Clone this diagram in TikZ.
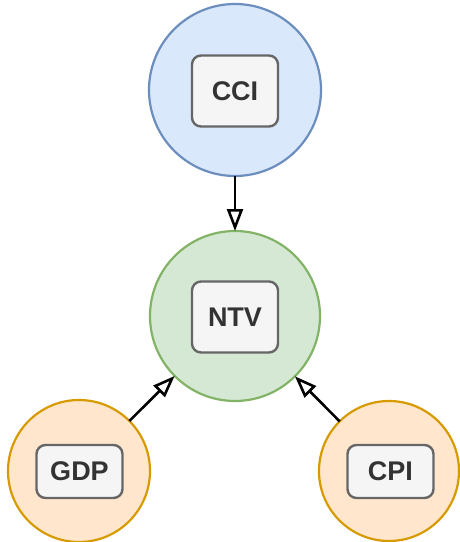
\documentclass[tikz,border=0pt]{standalone}
\usepackage{fontspec}
\setmainfont{Liberation Sans}
\usetikzlibrary{arrows.meta}
\definecolor{blueFill}{HTML}{DAE8FC}
\definecolor{blueLine}{HTML}{6C8EBF}
\definecolor{greenFill}{HTML}{D5E8D4}
\definecolor{greenLine}{HTML}{82B366}
\definecolor{orangeFill}{HTML}{FFE6CC}
\definecolor{orangeLine}{HTML}{D79B00}
\definecolor{boxFill}{HTML}{F5F5F5}
\definecolor{boxLine}{HTML}{666666}
\definecolor{boxText}{HTML}{333333}
\tikzset{
  bubble/.style={circle, draw, line width=2.2pt, inner sep=0pt, outer sep=0pt},
  varbox/.style={rectangle, draw=boxLine, fill=boxFill, line width=2.4pt,
    rounded corners=9pt, minimum width=86pt, inner sep=0pt,
    text=boxText, font=\fontsize{27}{27}\selectfont\bfseries},
  link/.style={line width=2.6pt, -{Triangle[open, length=22pt, width=16pt, line width=2.6pt]}}
}
\begin{document}
\begin{tikzpicture}[x=1pt, y=-1pt]
  \useasboundingbox (0,0) rectangle (459,542);
  % influence circles
  \node[bubble, draw=blueLine, fill=blueFill, minimum size=172pt] (cci) at (235,90) {};
  \node[bubble, draw=greenLine, fill=greenFill, minimum size=170pt] (ntv) at (235,316) {};
  \node[bubble, draw=orangeLine, fill=orangeFill, minimum size=142pt] (gdp) at (79,471) {};
  \node[bubble, draw=orangeLine, fill=orangeFill, minimum size=140pt] (cpi) at (389,471) {};
  % labels
  \node[varbox, minimum height=71pt] (cciLabel) at (235,91) {CCI};
  \node[varbox, minimum height=71pt] (ntvLabel) at (235,317) {NTV};
  \node[varbox, minimum height=53pt] (gdpLabel) at (79.5,471.5) {GDP};
  \node[varbox, minimum height=53pt] (cpiLabel) at (390.5,471.5) {CPI};
  % arrows into NTV
  \draw[link] (cci) -- (ntv);
  \draw[link] (gdp) -- (ntv);
  \draw[link] (cpi) -- (ntv);
\end{tikzpicture}
\end{document}
